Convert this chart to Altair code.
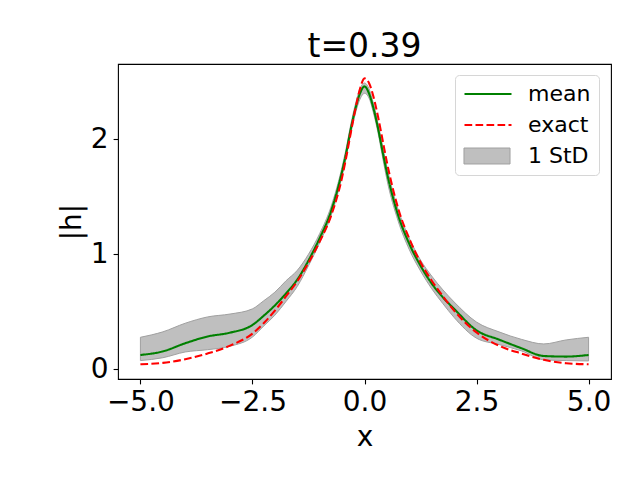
import altair as alt
import pandas as pd

xs = [-5.0, -4.5, -4.0, -3.5, -3.0, -2.5, -2.25, -2.0, -1.75, -1.5, -1.25, -1.0, -0.75, -0.5, -0.42, -0.3, -0.2,
      -0.1, 0.0, 0.1, 0.2, 0.3, 0.42, 0.5, 0.75, 1.0, 1.25, 1.5, 1.75, 2.0, 2.5, 3.0, 3.5, 4.0, 4.5, 5.0]
mean = [0.124, 0.155, 0.226, 0.285, 0.318, 0.385, 0.465, 0.555, 0.66, 0.78, 0.945, 1.14, 1.37, 1.72, 1.86, 2.10,
        2.27, 2.40, 2.46, 2.40, 2.27, 2.10, 1.86, 1.71, 1.34, 1.09, 0.90, 0.745, 0.625, 0.525, 0.338, 0.258, 0.183,
        0.115, 0.11, 0.124]
exact = [0.043, 0.055, 0.087, 0.137, 0.205, 0.31, 0.40, 0.51, 0.635, 0.765, 0.925, 1.11, 1.33, 1.67, 1.82, 2.07,
         2.27, 2.44, 2.53, 2.49, 2.37, 2.20, 1.96, 1.80, 1.40, 1.135, 0.93, 0.77, 0.635, 0.51, 0.32, 0.205, 0.137,
         0.082, 0.052, 0.043]
std_lo = [0.075, 0.10, 0.15, 0.17, 0.20, 0.28, 0.375, 0.47, 0.59, 0.72, 0.90, 1.10, 1.33, 1.68, 1.82, 2.06,
          2.23, 2.35, 2.40, 2.36, 2.23, 2.06, 1.81, 1.65, 1.29, 1.04, 0.855, 0.70, 0.57, 0.45, 0.27, 0.215, 0.16,
          0.082, 0.075, 0.072]
std_hi = [0.278, 0.325, 0.40, 0.455, 0.48, 0.525, 0.595, 0.67, 0.77, 0.86, 1.0, 1.18, 1.41, 1.76, 1.90, 2.14,
          2.31, 2.44, 2.49, 2.44, 2.31, 2.14, 1.91, 1.76, 1.39, 1.14, 0.95, 0.81, 0.69, 0.585, 0.41, 0.325, 0.26,
          0.22, 0.255, 0.278]

series_names = ["mean", "exact", "1 StD"]
series_colors = ["#008000", "#ff0000", "rgba(0,0,0,0)"]
series_dash = [[1, 0], [7.7, 3.3], [1, 0]]
band_name = ["1 StD"]
band_color = ["#bfbfbf"]

band_df = pd.DataFrame({"x": xs, "lo": std_lo, "hi": std_hi, "band": band_name[0]})
mean_df = pd.DataFrame({"x": xs, "h": mean, "series": "mean"})
exact_df = pd.DataFrame({"x": xs, "h": exact, "series": "exact"})

xscale = alt.Scale(domain=[-5.5, 5.5], nice=False, zero=False)
yscale = alt.Scale(domain=[-0.085, 2.655], nice=False, zero=False)
cscale = alt.Scale(domain=series_names, range=series_colors)
dscale = alt.Scale(domain=series_names, range=series_dash)

legend = alt.Legend(
    title=None, orient="none", legendX=337, legendY=11,
    symbolType="stroke", symbolSize=2209, symbolOpacity=1, symbolStrokeWidth=2.1,
    labelFont="DejaVu Sans", labelFontSize=22, labelColor="black",
    clipHeight=22, rowPadding=9, labelOffset=15, padding=8,
    strokeColor="#d6d6d6", cornerRadius=4, zindex=0,
)

band_legend = alt.Legend(
    title=None, orient="none", legendX=337, legendY=73,
    symbolType="M-0.98,-0.34H0.98V0.34H-0.98Z", symbolSize=2209, symbolOpacity=1,
    symbolStrokeColor="#a0a0a0", symbolStrokeWidth=1, symbolFillColor="#bfbfbf",
    labelExpr="''", labelFontSize=22, clipHeight=22, padding=8, labelOffset=0, zindex=1,
)


def line_layer(df):
    return alt.Chart(df).mark_line(interpolate="monotone", strokeWidth=2.1).encode(
        x="x:Q", y="h:Q",
        color=alt.Color("series:N", scale=cscale, legend=legend),
        strokeDash=alt.StrokeDash("series:N", scale=dscale, legend=legend),
    )


band = alt.Chart(band_df).mark_area(
    stroke="#a0a0a0", strokeWidth=1, opacity=1, interpolate="monotone"
).encode(
    x=alt.X("x:Q", scale=xscale, axis=alt.Axis(values=[-5, -2.5, 0, 2.5, 5], format=".1f", title="x")),
    y=alt.Y("lo:Q", scale=yscale, axis=alt.Axis(values=[0, 1, 2], format="d", title="|h|")),
    y2="hi:Q",
    fill=alt.Fill("band:N", scale=alt.Scale(domain=band_name, range=band_color), legend=band_legend),
)

chart = alt.layer(band, line_layer(mean_df), line_layer(exact_df)).properties(
    width=493, height=315,
    autosize=alt.AutoSizeParams(type="none"),
    padding={"left": 110, "top": 56, "right": 20, "bottom": 85},
    title=alt.TitleParams("t=0.39", font="DejaVu Sans", fontSize=33, fontWeight="normal",
                          color="black", anchor="middle", baseline="alphabetic", offset=8,
                          frame="group", dy=34),
).configure_view(
    stroke="black", strokeWidth=1.1
).configure_axis(
    domain=False, grid=False, tickSize=4.9, tickWidth=1.1, tickColor="black",
    labelFont="DejaVu Sans", labelFontSize=28, labelColor="black", labelPadding=5,
    titleFont="DejaVu Sans", titleFontSize=28, titleFontWeight="normal", titleColor="black",
).configure_axisX(titlePadding=7).configure_axisY(titlePadding=4)

chart.save("out.html", embed_options={"renderer": "svg", "actions": False})
